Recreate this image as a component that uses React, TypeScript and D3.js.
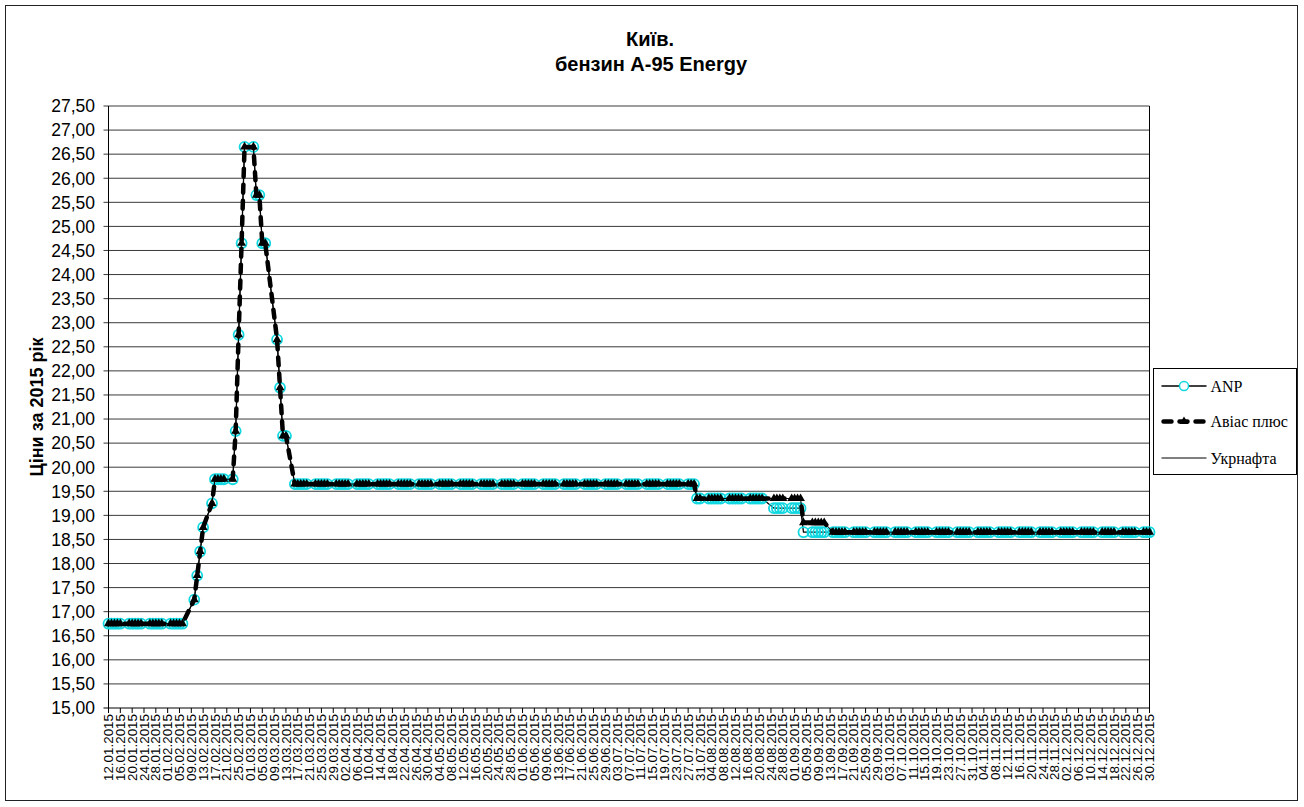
import React from "react";
import * as d3 from "d3";

const START = "12.01.2015";
const END = "30.12.2015";
// weekdays with no quotes (holidays)
const SKIPPED_DAYS = ["09.02.2015", "09.03.2015", "24.08.2015"];

// price changes: [first day of the new price, price]
const ANP_STEPS: [string, number][] = [
  ["12.01.2015", 16.75],
  ["10.02.2015", 17.25],
  ["11.02.2015", 17.75],
  ["12.02.2015", 18.25],
  ["13.02.2015", 18.75],
  ["16.02.2015", 19.25],
  ["17.02.2015", 19.75],
  ["24.02.2015", 20.75],
  ["25.02.2015", 22.75],
  ["26.02.2015", 24.65],
  ["27.02.2015", 26.65],
  ["03.03.2015", 25.65],
  ["05.03.2015", 24.65],
  ["10.03.2015", 22.65],
  ["11.03.2015", 21.65],
  ["12.03.2015", 20.65],
  ["16.03.2015", 19.65],
  ["30.07.2015", 19.35],
  ["25.08.2015", 19.15],
  ["04.09.2015", 18.65],
];

const AVIAS_STEPS: [string, number][] = [
  ["12.01.2015", 16.75],
  ["10.02.2015", 17.25],
  ["11.02.2015", 17.75],
  ["12.02.2015", 18.25],
  ["13.02.2015", 18.75],
  ["16.02.2015", 19.25],
  ["17.02.2015", 19.75],
  ["24.02.2015", 20.75],
  ["25.02.2015", 22.75],
  ["26.02.2015", 24.65],
  ["27.02.2015", 26.65],
  ["03.03.2015", 25.65],
  ["05.03.2015", 24.65],
  ["10.03.2015", 22.65],
  ["11.03.2015", 21.65],
  ["12.03.2015", 20.65],
  ["16.03.2015", 19.65],
  ["30.07.2015", 19.35],
  ["04.09.2015", 18.85],
  ["14.09.2015", 18.65],
];

const UKRNAFTA_STEPS: [string, number][] = [
  ["12.01.2015", 16.75],
  ["10.02.2015", 17.25],
  ["11.02.2015", 17.75],
  ["12.02.2015", 18.25],
  ["13.02.2015", 18.75],
  ["16.02.2015", 19.25],
  ["17.02.2015", 19.75],
  ["24.02.2015", 20.75],
  ["25.02.2015", 22.75],
  ["26.02.2015", 24.65],
  ["27.02.2015", 26.65],
  ["03.03.2015", 25.65],
  ["05.03.2015", 24.65],
  ["10.03.2015", 22.65],
  ["11.03.2015", 21.65],
  ["12.03.2015", 20.65],
  ["16.03.2015", 19.65],
  ["30.07.2015", 19.35],
  ["04.09.2015", 18.85],
  ["14.09.2015", 18.65],
];

const Y_TICKS = [
  15, 15.5, 16, 16.5, 17, 17.5, 18, 18.5, 19, 19.5, 20, 20.5, 21, 21.5, 22,
  22.5, 23, 23.5, 24, 24.5, 25, 25.5, 26, 26.5, 27, 27.5,
];
const X_TICK_STEP_DAYS = 4;

const TITLE = ["Київ.", "бензин А-95 Energy"];
const Y_TITLE = "Ціни за 2015 рік";
const LEGEND = ["ANP", "Авіас плюс", "Укрнафта"];

const parse = d3.timeParse("%d.%m.%Y");
const fmt = d3.timeFormat("%d.%m.%Y");

type Pt = { date: Date; value: number };

function expand(steps: [string, number][], days: Date[]): Pt[] {
  const st = steps.map(([d, v]) => ({ date: parse(d) as Date, value: v }));
  return days.map((day) => {
    let v = st[0].value;
    for (const s of st) if (s.date <= day) v = s.value;
    return { date: day, value: v };
  });
}

const W = 1304;
const H = 807;
const M = { left: 108.5, right: 1149.5, top: 106, bottom: 708 };
const sans = "'Liberation Sans', Arial, sans-serif";
const serif = "'Liberation Serif', 'Times New Roman', serif";
const CYAN = "#11d8e0";

export default function App() {
  const start = parse(START) as Date;
  const end = parse(END) as Date;

  const x = d3.scaleTime().domain([start, end]).range([M.left, M.right]);
  const y = d3.scaleLinear().domain([15, 27.5]).range([M.bottom, M.top]);

  const days = d3.timeDay
    .range(start, d3.timeDay.offset(end, 1))
    .filter((d) => d.getDay() !== 0 && d.getDay() !== 6 && !SKIPPED_DAYS.includes(fmt(d)));

  const anp = expand(ANP_STEPS, days);
  const avias = expand(AVIAS_STEPS, days);
  const ukr = expand(UKRNAFTA_STEPS, days);

  const line = d3
    .line<Pt>()
    .x((d) => x(d.date))
    .y((d) => y(d.value));

  const xTicks = d3.timeDay.range(start, d3.timeDay.offset(end, 1), X_TICK_STEP_DAYS);
  const tri = d3.symbol(d3.symbolTriangle, 34)() as string;
  const yFmt = (v: number) => v.toFixed(2).replace(".", ",");

  const lgX = 1153.5;
  const lgY = 368.5;

  return (
    <svg width={W} height={H} style={{ position: "absolute", left: 0, top: 0, background: "#fff" }}>
      <rect x={0} y={0} width={W} height={H} fill="#fff" />
      <rect x={5.5} y={5.5} width={1292} height={795} fill="none" stroke="#222" strokeWidth={1} />

      {/* title */}
      <text x={650} y={46} textAnchor="middle" fontFamily={sans} fontWeight="bold" fontSize={20}>
        {TITLE[0]}
      </text>
      <text x={651} y={71} textAnchor="middle" fontFamily={sans} fontWeight="bold" fontSize={20}>
        {TITLE[1]}
      </text>

      {/* grid */}
      {Y_TICKS.map((t) => (
        <g key={t}>
          <line x1={M.left - 5} x2={M.right} y1={y(t)} y2={y(t)} stroke={t === 15 ? "#000" : "#3a3a3a"} strokeWidth={1} />
          <text x={95} y={y(t)} dy="0.36em" textAnchor="end" fontFamily={sans} fontSize={17.5}>
            {yFmt(t)}
          </text>
        </g>
      ))}
      <line x1={M.left} x2={M.left} y1={M.top} y2={M.bottom} stroke="#000" />
      <line x1={M.right} x2={M.right} y1={M.top} y2={M.bottom} stroke="#000" />

      {/* x axis */}
      {xTicks.map((d, i) => (
        <g key={i}>
          <line x1={x(d)} x2={x(d)} y1={M.bottom} y2={M.bottom + 5} stroke="#000" />
          <text
            transform={`translate(${x(d) + 4.6},${M.bottom + 6}) rotate(-90)`}
            textAnchor="end"
            fontFamily={sans}
            fontSize={13.4}
          >
            {fmt(d)}
          </text>
        </g>
      ))}

      <text
        transform={`translate(43,407) rotate(-90)`}
        textAnchor="middle"
        fontFamily={sans}
        fontWeight="bold"
        fontSize={18}
      >
        {Y_TITLE}
      </text>

      {/* ANP */}
      <path d={line(anp) as string} fill="none" stroke="#000" strokeWidth={1.3} />
      {anp.map((p, i) => (
        <circle key={i} cx={x(p.date)} cy={y(p.value)} r={5} fill="none" stroke={CYAN} strokeWidth={1.8} />
      ))}

      {/* Авіас плюс */}
      <path
        d={line(avias) as string}
        fill="none"
        stroke="#000"
        strokeWidth={4.5}
        strokeDasharray="8,8"
        strokeLinecap="round"
      />
      {avias.map((p, i) => (
        <path key={i} d={tri} transform={`translate(${x(p.date)},${y(p.value)})`} fill="#000" />
      ))}

      {/* Укрнафта */}
      <path d={line(ukr) as string} fill="none" stroke="#000" strokeWidth={1} />

      {/* legend */}
      <rect x={lgX} y={lgY} width={143} height={106} fill="#fff" stroke="#000" />
      <line x1={lgX + 8} x2={lgX + 53} y1={386} y2={386} stroke="#000" strokeWidth={1.5} />
      <circle cx={lgX + 30.5} cy={386} r={4.5} fill="#fff" stroke={CYAN} strokeWidth={1.5} />
      <text x={lgX + 57} y={386} dy="0.35em" fontFamily={serif} fontSize={16}>
        {LEGEND[0]}
      </text>

      <line
        x1={lgX + 10}
        x2={lgX + 53}
        y1={421.5}
        y2={421.5}
        stroke="#000"
        strokeWidth={4.5}
        strokeDasharray="8,8"
        strokeLinecap="round"
      />
      <path d={tri} transform={`translate(${lgX + 30.5},421.5)`} fill="#000" />
      <text x={lgX + 57} y={421.5} dy="0.35em" fontFamily={serif} fontSize={16}>
        {LEGEND[1]}
      </text>

      <line x1={lgX + 8} x2={lgX + 53} y1={458} y2={458} stroke="#000" strokeWidth={1} />
      <text x={lgX + 57} y={458} dy="0.35em" fontFamily={serif} fontSize={16}>
        {LEGEND[2]}
      </text>
    </svg>
  );
}
